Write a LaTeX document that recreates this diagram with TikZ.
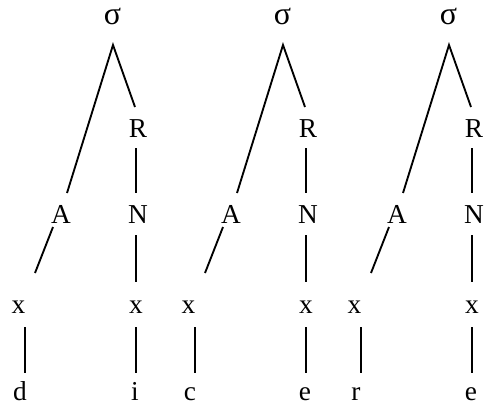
\documentclass[tikz,border=0pt]{standalone}
\usepackage{fontspec}
\setmainfont{Liberation Serif}
\tikzset{
  lab/.style={anchor=base, inner sep=0pt, font=\fontsize{20.5}{24}\selectfont},
  sig/.style={anchor=base, inner sep=0pt, font=\fontsize{24}{28}\selectfont},
  edge/.style={line width=1.4pt}
}
\begin{document}
\begin{tikzpicture}[x=0.75pt,y=-0.75pt]
\useasboundingbox (0,0) rectangle (485,410);
\foreach \o/\t/\l/\r in {0/1/d/i,170/2/c/e,336/3/r/e}{
  \begin{scope}[xshift=\o*0.75pt]
    \node[sig] (s\t)  at (112.5,25)  {σ};
    \node[lab] (R\t)  at (138,137) {R};
    \node[lab] (A\t)  at (61,223)  {A};
    \node[lab] (N\t)  at (138,223) {N};
    \node[lab] (xl\t) at (18.5,313) {x};
    \node[lab] (xr\t) at (136,313) {x};
    \node[lab] (ll\t) at (20,400)  {\l};
    \node[lab] (lr\t) at (135,400) {\r};
    % connector end points
    \coordinate (sap\t) at (113,45);
    \coordinate (At\t)  at (67,193);
    \coordinate (Rt\t)  at (135,107);
    \coordinate (Rb\t)  at (136,148);
    \coordinate (Nt\t)  at (136,193);
    \coordinate (Nb\t)  at (136,235);
    \coordinate (xrt\t) at (136,282);
    \coordinate (xrb\t) at (136,327);
    \coordinate (lrt\t) at (136,373);
    \coordinate (Ab\t)  at (53,227);
    \coordinate (xlt\t) at (35,273);
    \coordinate (xlb\t) at (25,327);
    \coordinate (llt\t) at (25,373);
    \draw[edge] (At\t) -- (sap\t) -- (Rt\t);
    \draw[edge] (Rb\t) -- (Nt\t);
    \draw[edge] (Nb\t) -- (xrt\t);
    \draw[edge] (xrb\t) -- (lrt\t);
    \draw[edge] (Ab\t) -- (xlt\t);
    \draw[edge] (xlb\t) -- (llt\t);
  \end{scope}
}
\end{tikzpicture}
\end{document}
